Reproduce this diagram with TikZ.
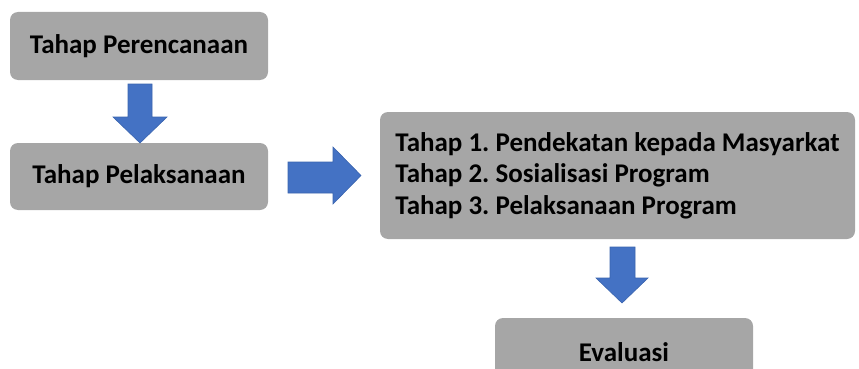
\documentclass[tikz,border=0pt]{standalone}
\usepackage{fontspec}
\setmainfont{Carlito}
\definecolor{boxgray}{HTML}{A6A6A6}
\definecolor{arrowblue}{HTML}{4472C4}
\definecolor{arrowedge}{HTML}{3A64AE}
\tikzset{
	stagebox/.style={fill=boxgray, rounded corners=8pt, inner sep=0pt,
		font=\fontsize{27}{31.5}\selectfont\bfseries\frenchspacing, text=black},
	blockarrow/.style={fill=arrowblue, draw=arrowedge, line width=0.6pt, line join=miter}
}
\begin{document}
\begin{tikzpicture}[x=1pt, y=-1pt]
	\useasboundingbox (0,0) rectangle (859,369);
	\clip (0,0) rectangle (859,369);
	% kotak tahap
	\node[stagebox, minimum width=258, minimum height=68] (plan) at (139,46) {Tahap Perencanaan};
	\node[stagebox, minimum width=258, minimum height=67] (impl) at (139,176.5) {Tahap Pelaksanaan};
	\node[stagebox, minimum width=475, minimum height=127, align=left] (steps) at (617.5,175.5)
		{Tahap 1. Pendekatan kepada Masyarkat\\Tahap 2. Sosialisasi Program\\Tahap 3. Pelaksanaan Program};
	\node[stagebox, minimum width=258, minimum height=68] (eval) at (624,352) {Evaluasi};
	% panah
	\filldraw[blockarrow] (128,84) -- (152,84) -- (152,117) -- (167,117) -- (140,143) -- (113,117) -- (128,117) -- cycle;
	\filldraw[blockarrow] (288,162) -- (333,162) -- (333,147) -- (361,175.5) -- (333,204) -- (333,193) -- (288,193) -- cycle;
	\filldraw[blockarrow] (610,247) -- (635,247) -- (635,278) -- (648,278) -- (622,303) -- (596,278) -- (610,278) -- cycle;
\end{tikzpicture}
\end{document}
